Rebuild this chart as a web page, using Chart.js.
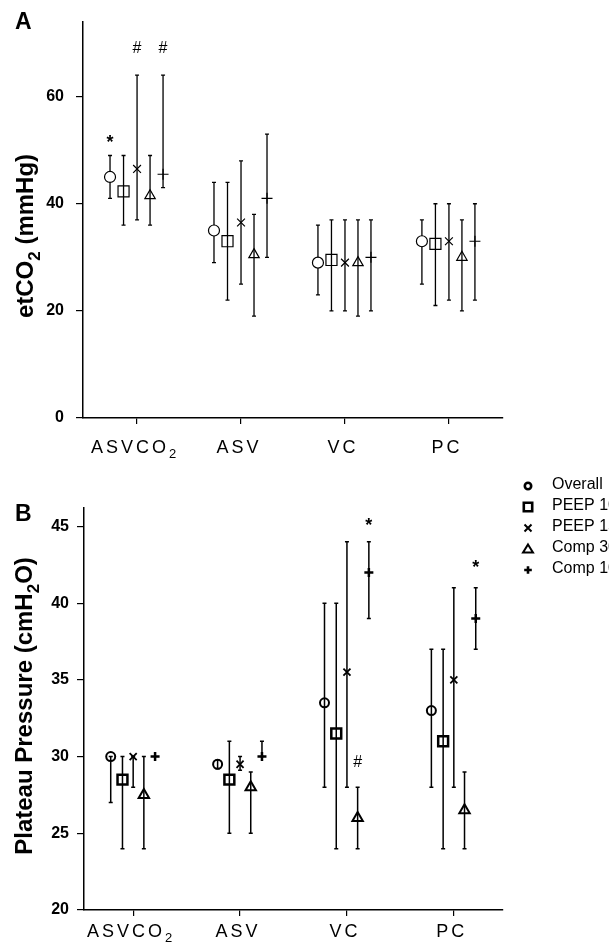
<!DOCTYPE html>
<html>
<head>
<meta charset="utf-8">
<script src="https://cdn.jsdelivr.net/npm/chart.js@4.4.1/dist/chart.umd.min.js"></script>
<style>
  html, body { margin: 0; padding: 0; background: #fff; }
  #wrap { position: relative; width: 609px; height: 946px; overflow: hidden; }
  #chartA { position: absolute; left: 0; top: 0; }
  #chartB { position: absolute; left: 0; top: 460px; }
</style>
</head>
<body>
<div id="wrap">
  <canvas id="chartA" width="609" height="460"></canvas>
  <canvas id="chartB" width="609" height="486"></canvas>
</div>
<script>
const FAMILY = "'Liberation Sans', Arial, Helvetica, sans-serif";

const categories = ["ASVCO₂", "ASV", "VC", "PC"];
const seriesNames = ["Overall", "PEEP 10", "PEEP 15", "Comp 30", "Comp 100"];
const pointStyles = ["circle", "rect", "crossRot", "triangle", "cross"];

// A: etCO2 (mmHg) - marker value, bottom and top of the range bar (one row per series)
const etco2Mid = [
  [45, 35, 29, 33],
  [42.3, 33, 29.5, 32.5],
  [46.5, 36.5, 29, 33],
  [41.5, 30.5, 29, 30],
  [45.5, 41, 30, 33],
];
const etco2Low = [
  [41, 29, 23, 25],
  [36, 22, 20, 21],
  [37, 25, 20, 22],
  [36, 19, 19, 20],
  [43, 30, 20, 22],
];
const etco2High = [
  [49, 44, 36, 37],
  [49, 44, 37, 40],
  [64, 48, 37, 40],
  [49, 38, 37, 37],
  [64, 53, 37, 40],
];
const etco2Ticks = [0, 20, 40, 60];
const etco2Marks = [
  { cat: 0, series: 0, value: 52.1, text: "*" },
  { cat: 0, series: 2, value: 69.3, text: "#" },
  { cat: 0, series: 4, value: 69.3, text: "#" },
];

// B: plateau pressure (cmH2O)
const plateauMid = [
  [30, 29.5, 33.5, 33],
  [28.5, 28.5, 31.5, 31],
  [30, 29.5, 35.5, 35],
  [27.5, 28, 26, 26.5],
  [30, 30, 42, 39],
];
const plateauLow = [
  [27, 29.2, 28, 28],
  [24, 25, 24, 24],
  [28, 29.1, 28, 28],
  [24, 25, 24, 24],
  [30, 30, 39, 37],
];
const plateauHigh = [
  [30, 29.8, 40, 37],
  [30, 31, 40, 37],
  [30, 30, 44, 41],
  [30, 29, 28, 29],
  [30, 31, 44, 41],
];
const plateauTicks = [20, 25, 30, 35, 40, 45];
const plateauMarks = [
  { cat: 2, series: 4, value: 45.3, text: "*" },
  { cat: 2, series: 3, value: 29.7, text: "#" },
  { cat: 3, series: 4, value: 42.6, text: "*" },
];

// text with "₂" drawn as a lowered small 2
function drawRich(ctx, text, x, y, size, weight, spacing, align) {
  const parts = [];
  for (const ch of text) {
    const sub = ch === "₂";
    const t = sub ? "2" : ch;
    const last = parts[parts.length - 1];
    if (last && last.sub === sub) last.t += t;
    else parts.push({ t, sub });
  }
  const fontFor = (sub) => `${weight} ${sub ? Math.round(size * 0.72) : size}px ${FAMILY}`;
  ctx.letterSpacing = spacing + "px";
  let total = 0;
  parts.forEach((p) => {
    ctx.font = fontFor(p.sub);
    p.w = ctx.measureText(p.t).width;
    total += p.w;
  });
  let cx = align === "center" ? x - total / 2 : x;
  ctx.textAlign = "left";
  ctx.textBaseline = "alphabetic";
  parts.forEach((p) => {
    ctx.font = fontFor(p.sub);
    ctx.fillText(p.t, cx, p.sub ? y + size * 0.3 : y);
    cx += p.w;
  });
  ctx.letterSpacing = "0px";
}

function drawMarker(ctx, style, x, y, r) {
  ctx.beginPath();
  if (style === "circle") {
    ctx.arc(x, y, r, 0, Math.PI * 2);
  } else if (style === "rect") {
    ctx.rect(x - r, y - r, r * 2, r * 2);
  } else if (style === "crossRot") {
    ctx.moveTo(x - r, y - r); ctx.lineTo(x + r, y + r);
    ctx.moveTo(x + r, y - r); ctx.lineTo(x - r, y + r);
  } else if (style === "triangle") {
    ctx.moveTo(x, y - r);
    ctx.lineTo(x + r * 1.1, y + r * 0.75);
    ctx.lineTo(x - r * 1.1, y + r * 0.75);
    ctx.closePath();
  } else if (style === "cross") {
    ctx.moveTo(x - r, y); ctx.lineTo(x + r, y);
    ctx.moveTo(x, y - r); ctx.lineTo(x, y + r);
  }
  ctx.stroke();
}

function decorPlugin(cfg) {
  return {
    id: "decor",
    beforeDatasetsDraw(chart) {
      const ctx = chart.ctx;
      const y = chart.scales.y;
      ctx.save();
      ctx.strokeStyle = "#000";
      ctx.lineWidth = cfg.errWidth;
      chart.data.datasets.forEach((ds, di) => {
        chart.getDatasetMeta(di).data.forEach((pt, i) => {
          if (ds.errLow[i] === ds.errHigh[i]) return;
          const lo = y.getPixelForValue(ds.errLow[i]);
          const hi = y.getPixelForValue(ds.errHigh[i]);
          ctx.beginPath();
          ctx.moveTo(pt.x, lo); ctx.lineTo(pt.x, hi);
          ctx.moveTo(pt.x - 2, lo); ctx.lineTo(pt.x + 2, lo);
          ctx.moveTo(pt.x - 2, hi); ctx.lineTo(pt.x + 2, hi);
          ctx.stroke();
        });
      });
      ctx.restore();
    },
    afterDraw(chart) {
      const ctx = chart.ctx;
      const area = chart.chartArea;
      const xs = chart.scales.x;
      const ys = chart.scales.y;
      ctx.save();
      ctx.fillStyle = "#000";

      // category labels
      categories.forEach((c, i) => {
        drawRich(ctx, c, xs.getPixelForValue(i + 1) - 2, area.bottom + cfg.labelGap, 18, "normal", 3, "center");
      });

      // panel letter
      ctx.font = `bold 23px ${FAMILY}`;
      ctx.textAlign = "left";
      ctx.textBaseline = "alphabetic";
      ctx.fillText(cfg.letter, 15, cfg.letterY);

      // y title
      ctx.save();
      ctx.translate(cfg.titleX, cfg.titleY);
      ctx.rotate(-Math.PI / 2);
      drawRich(ctx, cfg.title, 0, 0, 24, "bold", 0, "center");
      ctx.restore();

      // significance marks
      cfg.marks.forEach((m) => {
        const px = xs.getPixelForValue(m.cat + 1 + cfg.offsets[m.series]);
        const py = ys.getPixelForValue(m.value);
        ctx.font = m.text === "*" ? `bold 18px ${FAMILY}` : `normal 16px ${FAMILY}`;
        ctx.textAlign = "center";
        ctx.textBaseline = "alphabetic";
        const mt = ctx.measureText(m.text);
        ctx.fillText(m.text, px, py + (mt.actualBoundingBoxAscent - mt.actualBoundingBoxDescent) / 2);
      });

      // legend
      if (cfg.legend) {
        ctx.strokeStyle = "#000";
        const sizes = [3.2, 4.2, 3.5, 4.5, 3.8];
        const widths = [2.6, 2.6, 2, 2, 2.6];
        seriesNames.forEach((name, i) => {
          const ly = cfg.legend.y + i * cfg.legend.step;
          ctx.lineWidth = widths[i];
          drawMarker(ctx, pointStyles[i], cfg.legend.x, ly + 1, sizes[i]);
          ctx.font = `normal 16px ${FAMILY}`;
          ctx.textAlign = "left";
          ctx.textBaseline = "middle";
          ctx.fillText(name, cfg.legend.x + 24, ly);
        });
      }
      ctx.restore();
    },
  };
}

function buildChart(id, cfg) {
  const datasets = cfg.mid.map((vals, s) => ({
    label: seriesNames[s],
    data: vals.map((v, i) => ({ x: i + 1 + cfg.offsets[s], y: v })),
    errLow: cfg.low[s],
    errHigh: cfg.high[s],
    showLine: false,
    pointStyle: pointStyles[s],
    pointRadius: cfg.radius[s],
    pointBorderWidth: cfg.border[s],
    pointBorderColor: "#000",
    pointBackgroundColor: cfg.fill[s],
  }));

  const axisFont = { family: FAMILY, size: 16, weight: "bold" };
  return new Chart(document.getElementById(id), {
    type: "scatter",
    data: { datasets },
    options: {
      responsive: false,
      animation: false,
      events: [],
      layout: { padding: { top: cfg.top, right: 106, left: 0, bottom: 0 } },
      plugins: { legend: { display: false }, tooltip: { enabled: false } },
      scales: {
        x: {
          type: "linear",
          min: cfg.xMin,
          max: cfg.xMax,
          ticks: { display: false },
          afterBuildTicks: (scale) => {
            scale.ticks = categories.map((c, i) => ({ value: i + 1 }));
          },
          afterFit: (scale) => { scale.height = cfg.xHeight; },
          grid: { display: true, drawOnChartArea: false, drawTicks: true, tickLength: 6, color: "#000", lineWidth: 1.2 },
          border: { display: true, color: "#000", width: 1.5 },
        },
        y: {
          min: cfg.yMin,
          max: cfg.yMax,
          afterBuildTicks: (scale) => {
            scale.ticks = cfg.ticks.map((v) => ({ value: v }));
          },
          afterFit: (scale) => { scale.width = cfg.yWidth; },
          ticks: { color: "#000", font: axisFont, padding: cfg.tickPad },
          grid: { display: true, drawOnChartArea: false, drawTicks: true, tickLength: 7, color: "#000", lineWidth: 1.2 },
          border: { display: true, color: "#000", width: 1.5 },
        },
      },
    },
    plugins: [decorPlugin(cfg)],
  });
}

buildChart("chartA", {
  mid: etco2Mid, low: etco2Low, high: etco2High, ticks: etco2Ticks, marks: etco2Marks,
  yMin: 0, yMax: 74, xMin: 0.48, xMax: 4.52,
  offsets: [-0.26, -0.13, 0, 0.125, 0.25],
  radius: [5.5, 7.8, 5.5, 6, 5.5],
  border: [1.2, 1.2, 1.2, 1.2, 1.2],
  fill: ["#fff", "rgba(0,0,0,0)", "rgba(0,0,0,0)", "rgba(0,0,0,0)", "rgba(0,0,0,0)"],
  errWidth: 1.3,
  top: 15, xHeight: 42, yWidth: 83, tickPad: 12, labelGap: 35,
  letter: "A", letterY: 29,
  title: "etCO₂ (mmHg)", titleX: 33, titleY: 236,
});

buildChart("chartB", {
  mid: plateauMid, low: plateauLow, high: plateauHigh, ticks: plateauTicks, marks: plateauMarks,
  yMin: 20, yMax: 46.2, xMin: 0.54, xMax: 4.46,
  offsets: [-0.21, -0.1, 0, 0.1, 0.205],
  radius: [4.5, 7, 5, 6, 4.5],
  border: [2, 2.5, 1.8, 2, 2.5],
  fill: ["rgba(0,0,0,0)", "rgba(0,0,0,0)", "rgba(0,0,0,0)", "rgba(0,0,0,0)", "rgba(0,0,0,0)"],
  errWidth: 1.5,
  top: 48, xHeight: 36, yWidth: 84, tickPad: 8, labelGap: 27,
  letter: "B", letterY: 61,
  title: "Plateau Pressure (cmH₂O)", titleX: 32, titleY: 246,
  legend: { x: 528, y: 25, step: 21 },
});
</script>
</body>
</html>
